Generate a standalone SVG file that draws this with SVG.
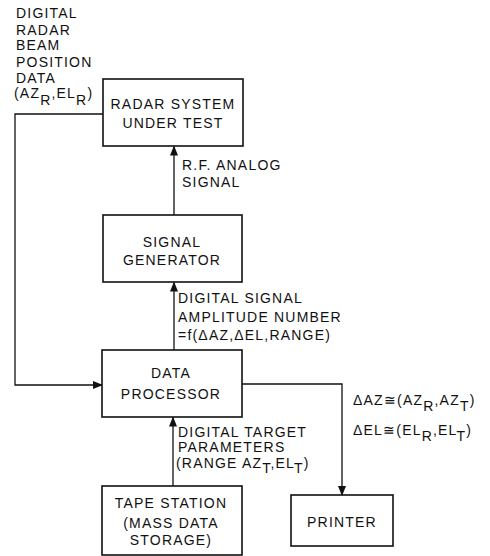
<svg xmlns="http://www.w3.org/2000/svg" width="490" height="556" viewBox="0 0 490 556">
<style>
text{font-family:"Liberation Sans",Arial,sans-serif;font-size:14px;letter-spacing:1.2px;fill:#111}
.c{text-anchor:middle}
.box{fill:#fff;stroke:#111;stroke-width:1.6}
.ln{fill:none;stroke:#111;stroke-width:1.3}
</style>
<defs>
<marker id="ah" markerWidth="10" markerHeight="8" refX="9" refY="4" orient="auto" markerUnits="userSpaceOnUse">
<path d="M0,0 L10,4 L0,8 Z" fill="#111"/>
</marker>
</defs>
<rect width="490" height="556" fill="#fff"/>
<g id="connectors">
<path class="ln" d="M103,114 H15 V385 H102" marker-end="url(#ah)"/>
<path class="ln" d="M174,215 V146.5" marker-end="url(#ah)"/>
<path class="ln" d="M174,350 V282.5" marker-end="url(#ah)"/>
<path class="ln" d="M173,486 V417.5" marker-end="url(#ah)"/>
<path class="ln" d="M242,384 H342 V495" marker-end="url(#ah)"/>
<text x="16" y="18">DIGITAL</text>
<text x="16" y="35">RADAR</text>
<text x="16" y="50">BEAM</text>
<text x="16" y="67">POSITION</text>
<text x="16" y="83">DATA</text>
<text x="14" y="98">(AZ<tspan dy="7">R</tspan><tspan dy="-7">,EL</tspan><tspan dy="7">R</tspan><tspan dy="-7">)</tspan></text>
<text x="182" y="170">R.F. ANALOG</text>
<text x="182" y="187">SIGNAL</text>
<text x="178" y="303">DIGITAL SIGNAL</text>
<text x="178" y="322">AMPLITUDE NUMBER</text>
<text x="178" y="340">=f(ΔAZ,ΔEL,RANGE)</text>
<text x="178" y="437">DIGITAL TARGET</text>
<text x="178" y="452">PARAMETERS</text>
<text x="176" y="468">(RANGE AZ<tspan dy="5">T</tspan><tspan dy="-5">,EL</tspan><tspan dy="5">T</tspan><tspan dy="-5">)</tspan></text>
<text x="353" y="405">ΔAZ≅(AZ<tspan dy="6">R</tspan><tspan dy="-6">,AZ</tspan><tspan dy="6">T</tspan><tspan dy="-6">)</tspan></text>
<text x="353" y="435">ΔEL≅(EL<tspan dy="6">R</tspan><tspan dy="-6">,EL</tspan><tspan dy="6">T</tspan><tspan dy="-6">)</tspan></text>
</g>
<g id="radar">
<rect class="box" x="103" y="79" width="140" height="67"/>
<text class="c" x="173" y="109">RADAR SYSTEM</text>
<text class="c" x="173" y="128">UNDER TEST</text>
</g>
<g id="siggen">
<rect class="box" x="103" y="215" width="139" height="67"/>
<text class="c" x="172" y="247">SIGNAL</text>
<text class="c" x="172" y="265">GENERATOR</text>
</g>
<g id="dataproc">
<rect class="box" x="102" y="350" width="140" height="67"/>
<text class="c" x="171" y="378">DATA</text>
<text class="c" x="171" y="399">PROCESSOR</text>
</g>
<g id="tape">
<rect class="box" x="102" y="486" width="140" height="69"/>
<text class="c" x="171" y="508">TAPE STATION</text>
<text class="c" x="171" y="528">(MASS DATA</text>
<text class="c" x="171" y="545">STORAGE)</text>
</g>
<g id="printer">
<rect class="box" x="291" y="495" width="102" height="51"/>
<text class="c" x="342" y="527">PRINTER</text>
</g>
</svg>
